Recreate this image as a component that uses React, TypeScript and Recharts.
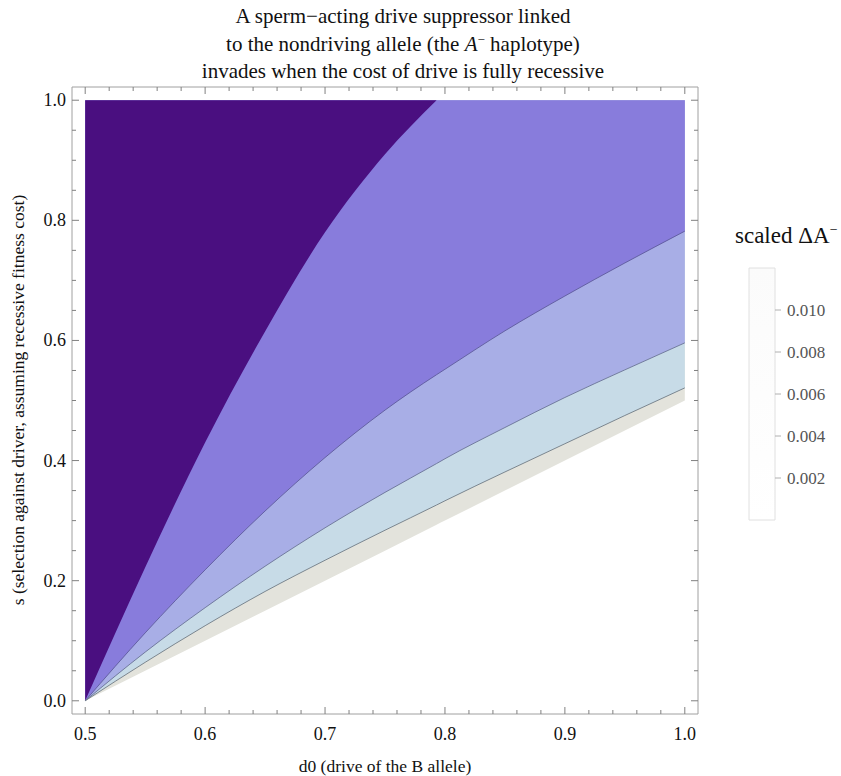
import React from "react";
import { ComposedChart, Area, Line, Bar, XAxis, YAxis } from "recharts";

const d0Values = [0.5, 0.55, 0.6, 0.65, 0.7, 0.75, 0.793, 0.8, 0.85, 0.9, 0.95, 1.0];
// s of each contour boundary; level1 leaves the plot through s = 1 at d0 ≈ 0.793
const level1 = [0, 0.222, 0.43, 0.615, 0.78, 0.91, 1.0, null, null, null, null, null];
const level2 = [0, 0.113, 0.218, 0.316, 0.405, 0.484, 0.543, 0.552, 0.616, 0.674, 0.729, 0.782];
const level3 = [0, 0.081, 0.155, 0.224, 0.288, 0.347, 0.395, 0.403, 0.455, 0.505, 0.551, 0.596];
const level4 = [0, 0.064, 0.125, 0.182, 0.234, 0.284, 0.326, 0.333, 0.381, 0.428, 0.475, 0.521];
// lower edge of the positive region
const zeroEdge = [0, 0.05, 0.1, 0.15, 0.2, 0.25, 0.293, 0.3, 0.35, 0.4, 0.45, 0.5];

const xTicks = [0.5, 0.52, 0.54, 0.56, 0.58, 0.6, 0.62, 0.64, 0.66, 0.68, 0.7, 0.72, 0.74, 0.76, 0.78, 0.8, 0.82, 0.84, 0.86, 0.88, 0.9, 0.92, 0.94, 0.96, 0.98, 1.0];
const yTicks = [0, 0.05, 0.1, 0.15, 0.2, 0.25, 0.3, 0.35, 0.4, 0.45, 0.5, 0.55, 0.6, 0.65, 0.7, 0.75, 0.8, 0.85, 0.9, 0.95, 1.0];
const legendTicks = [0.002, 0.004, 0.006, 0.008, 0.01];
const legendRange = [0, 0.012];

// each band is painted from its lower boundary up to s = 1, darker bands on top
const rows = d0Values.map((d0, i) => ({
  d0,
  grey: [zeroEdge[i], 1],
  blue: [level4[i], 1],
  light: [level3[i], 1],
  mid: [level2[i], 1],
  dark: level1[i] == null ? null : [level1[i], 1],
  l2: level2[i],
  l3: level3[i],
  l4: level4[i],
}));

const SERIF = "'Liberation Serif', 'Times New Roman', serif";
const FRAME = "#a0a0a0";
const TICK = "#808080";
const X_DOMAIN = [0.489, 1.011];
const Y_DOMAIN = [-0.022, 1.022];

const majorX = (v: number) => Math.abs(v * 10 - Math.round(v * 10)) < 1e-6;
const majorY = (v: number) => Math.abs(v * 5 - Math.round(v * 5)) < 1e-6;

function BottomTick({ x, y, payload }: any) {
  const m = majorX(payload.value);
  return (
    <g>
      <line x1={x} y1={y} x2={x} y2={y - (m ? 7 : 4)} stroke={TICK} />
      {m && (
        <text x={x} y={y + 26} textAnchor="middle" fontSize={18} fontFamily={SERIF} fill="#111">
          {payload.value.toFixed(1)}
        </text>
      )}
    </g>
  );
}

function TopTick({ x, y, payload }: any) {
  const m = majorX(payload.value);
  return <line x1={x} y1={y} x2={x} y2={y + (m ? 7 : 4)} stroke={TICK} />;
}

function LeftTick({ x, y, payload }: any) {
  const m = majorY(payload.value);
  return (
    <g>
      <line x1={x} y1={y} x2={x + (m ? 7 : 4)} y2={y} stroke={TICK} />
      {m && (
        <text x={x - 6} y={y + 6} textAnchor="end" fontSize={18} fontFamily={SERIF} fill="#111">
          {payload.value.toFixed(1)}
        </text>
      )}
    </g>
  );
}

function RightTick({ x, y, payload }: any) {
  const m = majorY(payload.value);
  return <line x1={x} y1={y} x2={x - (m ? 7 : 4)} y2={y} stroke={TICK} />;
}

function LegendTick({ x, y, payload }: any) {
  return (
    <g>
      <line x1={x} y1={y} x2={x + 6} y2={y} stroke="#b0b0b0" />
      <text x={x + 12} y={y + 6} fontSize={17} fontFamily={SERIF} fill="#555">
        {payload.value.toFixed(3)}
      </text>
    </g>
  );
}

export default function App() {
  return (
    <div style={{ position: "absolute", left: 0, top: 0, width: 841, height: 776, background: "#fff", fontFamily: SERIF }}>
      <div style={{ position: "absolute", left: 0, top: 3, width: 806, textAlign: "center", fontSize: 21, lineHeight: "27.5px", color: "#111", fontFamily: SERIF }}>
        <div>A sperm−acting drive suppressor linked</div>
        <div>
          to the nondriving allele (the <i>A</i>
          <sup style={{ fontSize: 13, verticalAlign: 7, lineHeight: 0 }}>−</sup> haplotype)
        </div>
        <div>invades when the cost of drive is fully recessive</div>
      </div>

      <ComposedChart width={841} height={776} data={rows} margin={{ top: 86, right: 142, bottom: 61, left: 71 }}>
        <XAxis dataKey="d0" type="number" domain={X_DOMAIN} allowDataOverflow ticks={xTicks} interval={0}
          height={1} tickSize={0} tickMargin={0} tickLine={false} axisLine={{ stroke: FRAME }} tick={<BottomTick />} />
        <XAxis xAxisId="top" orientation="top" dataKey="d0" type="number" domain={X_DOMAIN} allowDataOverflow ticks={xTicks}
          interval={0} height={1} tickSize={0} tickMargin={0} tickLine={false} axisLine={{ stroke: FRAME }} tick={<TopTick />} />
        <YAxis type="number" domain={Y_DOMAIN} allowDataOverflow ticks={yTicks} interval={0}
          width={1} tickSize={0} tickMargin={0} tickLine={false} axisLine={{ stroke: FRAME }} tick={<LeftTick />} />
        <YAxis yAxisId="right" orientation="right" type="number" domain={Y_DOMAIN} allowDataOverflow ticks={yTicks}
          interval={0} width={1} tickSize={0} tickMargin={0} tickLine={false} axisLine={{ stroke: FRAME }} tick={<RightTick />} />

        <Area dataKey="grey" type="monotone" fill="#e3e3dc" fillOpacity={1} stroke="none" isAnimationActive={false} />
        <Area dataKey="blue" type="monotone" fill="#c7dbe7" fillOpacity={1} stroke="none" isAnimationActive={false} />
        <Area dataKey="light" type="monotone" fill="#a8aee6" fillOpacity={1} stroke="none" isAnimationActive={false} />
        <Area dataKey="mid" type="monotone" fill="#887cdc" fillOpacity={1} stroke="none" isAnimationActive={false} />
        <Area dataKey="dark" type="monotone" fill="#4a0f80" fillOpacity={1} stroke="none" isAnimationActive={false} />

        <Line dataKey="l2" type="monotone" stroke="#5e5a9c" strokeWidth={0.9} dot={false} isAnimationActive={false} />
        <Line dataKey="l3" type="monotone" stroke="#6a7396" strokeWidth={0.9} dot={false} isAnimationActive={false} />
        <Line dataKey="l4" type="monotone" stroke="#707c86" strokeWidth={0.9} dot={false} isAnimationActive={false} />
      </ComposedChart>

      <div style={{ position: "absolute", left: 18 - 300, top: 400 - 11, width: 600, height: 22, lineHeight: "22px", textAlign: "center", fontSize: 17.5, color: "#111", transform: "rotate(-90deg)" }}>
        s (selection against driver, assuming recessive fitness cost)
      </div>
      <div style={{ position: "absolute", left: 85, top: 755, width: 600, textAlign: "center", fontSize: 17.5, lineHeight: "22px", color: "#111" }}>
        d0 (drive of the B allele)
      </div>

      <div style={{ position: "absolute", left: 735, top: 221, fontSize: 23, lineHeight: "30px", color: "#111", whiteSpace: "nowrap" }}>
        scaled ΔA<sup style={{ fontSize: 14, verticalAlign: 9, lineHeight: 0 }}>−</sup>
      </div>

      <div style={{ position: "absolute", left: 700, top: 250 }}>
        <ComposedChart width={141} height={300} data={[{ key: "bar", range: legendRange }]} barCategoryGap={0}
          margin={{ top: 18, right: 65, bottom: 30, left: 49 }}>
          <defs>
            <linearGradient id="legendFill" x1="0" y1="0" x2="0" y2="1">
              <stop offset="0%" stopColor="#fbfbfb" />
              <stop offset="100%" stopColor="#ffffff" />
            </linearGradient>
          </defs>
          <XAxis dataKey="key" type="category" hide />
          <YAxis orientation="right" type="number" domain={legendRange} ticks={legendTicks} interval={0}
            width={1} tickSize={0} tickMargin={0} tickLine={false} axisLine={false} tick={<LegendTick />} />
          <Bar dataKey="range" fill="url(#legendFill)" stroke="#e0e0e0" strokeWidth={1} isAnimationActive={false} />
        </ComposedChart>
      </div>
    </div>
  );
}
